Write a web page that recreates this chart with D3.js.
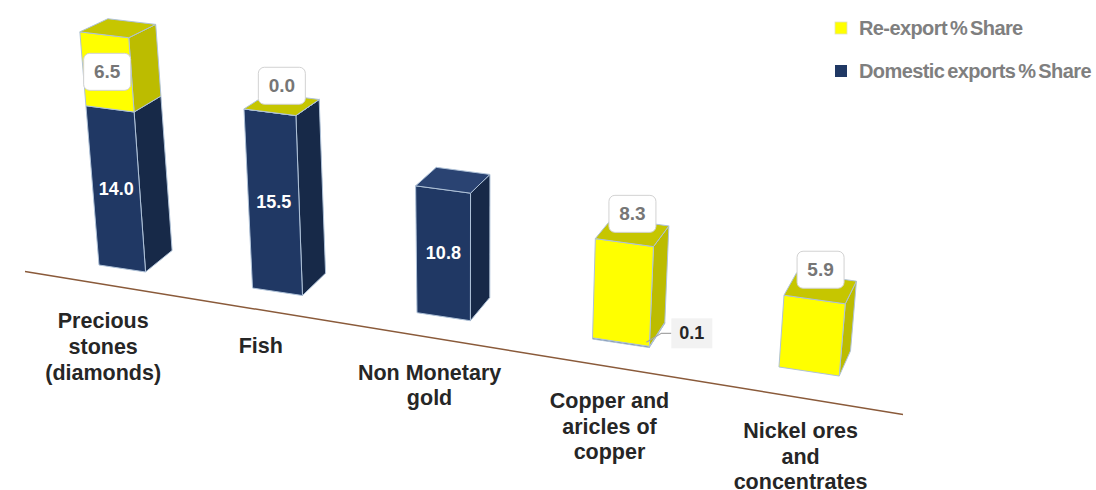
<!DOCTYPE html>
<html>
<head>
<meta charset="utf-8">
<script src="https://cdn.jsdelivr.net/npm/d3@7"></script>
<style>
  html, body { margin: 0; padding: 0; background: #ffffff; }
  svg { display: block; font-family: "Liberation Sans", Arial, sans-serif; }
</style>
</head>
<body>
<svg id="chart" width="1096" height="490"></svg>
<script>
// ---- data ----
const categories = [
  "Precious stones (diamonds)",
  "Fish",
  "Non Monetary gold",
  "Copper and aricles of copper",
  "Nickel ores and concentrates"
];
const categoryLines = [
  ["Precious", "stones", "(diamonds)"],
  ["Fish"],
  ["Non Monetary", "gold"],
  ["Copper and", "aricles of", "copper"],
  ["Nickel ores", "and", "concentrates"]
];
const domesticShare = [14.0, 15.5, 10.8, 0.1, null];
const reexportShare = [6.5, 0.0, null, 8.3, 5.9];
const seriesNames = ["Re-export % Share", "Domestic exports % Share"];

// ---- styling ----
const colors = {
  reexport: { front: "#FFFF00", side: "#BCBC00", top: "#C6C600" },
  domestic: { front: "#203864", side: "#172948", top: "#2A4372" },
  edge: "#AFC2D8",
  floor: "#8A5A3A"
};

const svg = d3.select("#chart");
const n = categories.length;

// category axis (world units along the floor) and value axis (bar height)
const xBand = d3.scaleBand()
  .domain(categories)
  .range([99, 99 + 148 * (n - 0.689)])
  .paddingInner(0.689)
  .paddingOuter(0);
const yVal = d3.scaleLinear().domain([0, 20]).range([0, 235]);

// ---- oblique perspective projection ----
const u0 = 99, warpQ = 0.000251;
const warp = u => u + warpQ * (u - u0) * (u - u0);          // nearer bars spread out
const floorY = x => 265 + 0.15 * (x - 99);                   // floor under the bars
const sizeAt = x => 1 + (x - 420) * 0.0001;                  // nearer bars look taller
const lean = x => (x - 465) / 4460;                           // verticals converge downward
const depthVec = (x, y) => [28 - 0.022 * (x - 80), -(12 + 0.035 * y)];

function project(u, v, d) {
  const bx = warp(u), by = floorY(bx);
  const h = yVal(v) * sizeAt(bx);
  let x = bx + lean(bx) * h, y = by - h;
  if (d) {
    const [dx, dy] = depthVec(x, y);
    x += dx * d; y += dy * d;
  }
  return [x, y];
}

const poly = pts => "M" + pts.map(p => p[0].toFixed(2) + "," + p[1].toFixed(2)).join("L") + "Z";
const centroid = pts => [d3.mean(pts, p => p[0]), d3.mean(pts, p => p[1])];

// ---- floor line ----
const floorLine = d3.line();
const floorX = [25, 903];
svg.append("path")
  .attr("d", floorLine(floorX.map(x => [x, 271.7 + 0.1628 * (x - 25.9)])))
  .attr("stroke", colors.floor)
  .attr("stroke-width", 1.5)
  .attr("fill", "none");

// ---- bars ----
const bars = categories.map((c, i) => {
  const dom = domesticShare[i], rex = reexportShare[i];
  const segs = [];
  let base = 0;
  if (dom !== null) { segs.push({ key: "domestic", v0: 0, v1: dom, value: dom }); base = dom; }
  if (rex !== null) { segs.push({ key: "reexport", v0: base, v1: base + rex, value: rex }); }
  return { cat: c, i, segs, uL: xBand(c), uR: xBand(c) + xBand.bandwidth() };
});

const barG = svg.append("g");
bars.forEach(b => {
  const g = barG.append("g");
  b.segs.forEach(s => {
    const fr = [project(b.uL, s.v0, 0), project(b.uR, s.v0, 0), project(b.uR, s.v1, 0), project(b.uL, s.v1, 0)];
    const sd = [project(b.uR, s.v0, 0), project(b.uR, s.v0, 1), project(b.uR, s.v1, 1), project(b.uR, s.v1, 0)];
    s.front = fr;
    g.append("path").attr("d", poly(sd)).attr("fill", colors[s.key].side)
      .attr("stroke", colors.edge).attr("stroke-width", 1).attr("stroke-linejoin", "round");
    g.append("path").attr("d", poly(fr)).attr("fill", colors[s.key].front)
      .attr("stroke", colors.edge).attr("stroke-width", 1).attr("stroke-linejoin", "round");
  });
  const top = b.segs[b.segs.length - 1];
  const tp = [project(b.uL, top.v1, 0), project(b.uR, top.v1, 0), project(b.uR, top.v1, 1), project(b.uL, top.v1, 1)];
  b.topFace = tp;
  g.append("path").attr("d", poly(tp)).attr("fill", colors[top.key].top)
    .attr("stroke", colors.edge).attr("stroke-width", 1).attr("stroke-linejoin", "round");
});

// ---- value labels ----
const fmt = d3.format(".1f");
const labelG = svg.append("g");
bars.forEach(b => {
  b.segs.forEach(s => {
    const pxH = yVal(s.value);
    if (s.key === "domestic") {
      if (pxH > 30) {
        const [cx, cy] = centroid(s.front);
        labelG.append("text").attr("x", cx).attr("y", cy)
          .attr("text-anchor", "middle").attr("dominant-baseline", "central")
          .attr("fill", "#ffffff").attr("font-weight", "bold").attr("font-size", 18)
          .text(fmt(s.value));
      } else {
        // small segment: callout to the right of the bar foot
        const [ax, ay] = project(b.uR, s.v1, 0);
        const cy = ay - 13;
        labelG.append("path")
          .attr("d", `M${ax - 3},${ay - 4}L${ax + 12},${cy}L${ax + 22},${cy}`)
          .attr("fill", "none").attr("stroke", "#A6A6A6").attr("stroke-width", 1.2);
        labelG.append("rect").attr("x", ax + 22).attr("y", cy - 15).attr("width", 41).attr("height", 30)
          .attr("fill", "#F2F2F2");
        labelG.append("text").attr("x", ax + 42.5).attr("y", cy)
          .attr("text-anchor", "middle").attr("dominant-baseline", "central")
          .attr("fill", "#262626").attr("font-weight", "bold").attr("font-size", 18)
          .text(fmt(s.value));
      }
    } else {
      const bw = 47, bh = 37;
      let cx, cy;
      const hasBelow = b.segs.length > 1 && b.segs[0].value > 1;
      if (hasBelow && pxH > 50) {
        [cx, cy] = centroid(s.front);
      } else {
        const [tx, ty] = centroid(b.topFace);
        cx = tx; cy = ty - bh / 2;
      }
      labelG.append("rect").attr("x", cx - bw / 2).attr("y", cy - bh / 2)
        .attr("width", bw).attr("height", bh).attr("rx", 6)
        .attr("fill", "#ffffff").attr("stroke", "#D2D2D2").attr("stroke-width", 1);
      labelG.append("text").attr("x", cx).attr("y", cy)
        .attr("text-anchor", "middle").attr("dominant-baseline", "central")
        .attr("fill", "#767676").attr("font-weight", "bold").attr("font-size", 19)
        .text(fmt(s.value));
    }
  });
});

// ---- category labels below the floor ----
const catG = svg.append("g");
bars.forEach(b => {
  const mid = (b.uL + b.uR) / 2;
  const [px] = project(mid, 0, -0.7);
  const y0 = 328 + 0.1576 * (px - 101);
  const t = catG.append("text").attr("text-anchor", "middle")
    .attr("fill", "#262626").attr("font-weight", "bold").attr("font-size", 21.5);
  categoryLines[b.i].forEach((ln, k) => {
    t.append("tspan").attr("x", px).attr("y", y0 + k * 25.6).text(ln);
  });
});

// ---- legend ----
const legend = svg.append("g").attr("transform", "translate(835,0)");
const legendColors = [colors.reexport.front, colors.domestic.front];
seriesNames.forEach((name, k) => {
  const y = 22 + k * 43;
  legend.append("rect").attr("x", 0).attr("y", y).attr("width", 12).attr("height", 12)
    .attr("fill", legendColors[k]).attr("stroke", k === 0 ? "#E0E0C0" : "none").attr("stroke-width", 0.8);
  legend.append("text").attr("x", 24).attr("y", y + 13)
    .attr("fill", "#7F7F7F").attr("font-weight", "bold").attr("font-size", 20)
    .attr("letter-spacing", -0.6).attr("word-spacing", -2)
    .text(name);
});
</script>
</body>
</html>
